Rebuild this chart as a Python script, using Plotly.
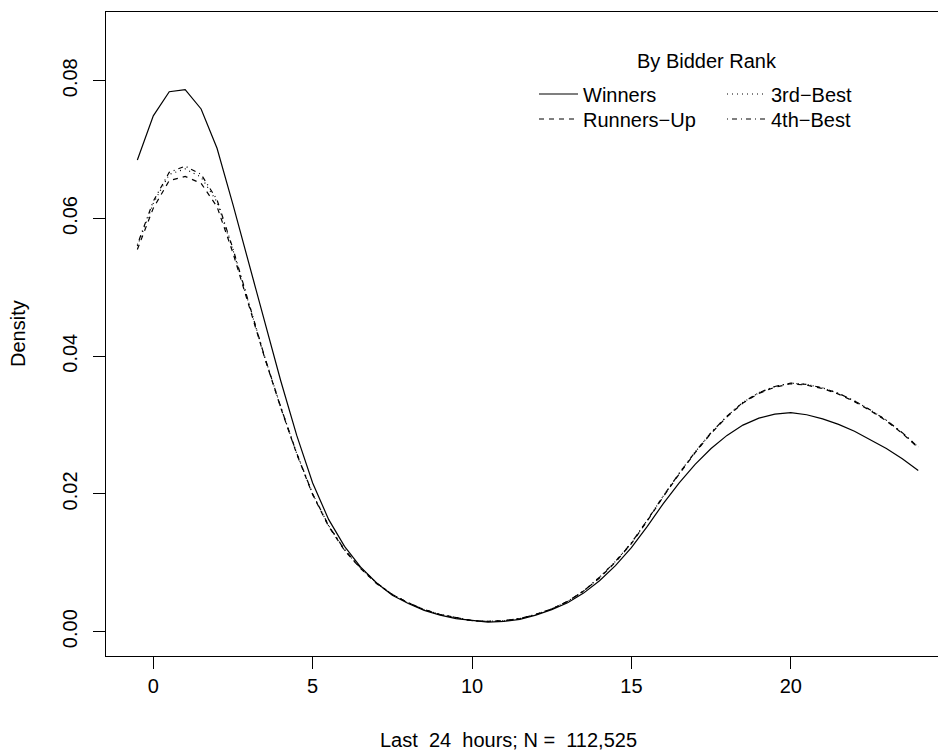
import plotly.graph_objects as go

# hours before auction end (grid of density estimate)
hours = [-0.5, 0, 0.5, 1, 1.5, 2, 2.5, 3, 3.5, 4, 4.5, 5, 5.5, 6, 6.5, 7, 7.5, 8, 8.5, 9,
         9.5, 10, 10.5, 11, 11.5, 12, 12.5, 13, 13.5, 14, 14.5, 15, 15.5, 16, 16.5, 17,
         17.5, 18, 18.5, 19, 19.5, 20, 20.5, 21, 21.5, 22, 22.5, 23, 23.5, 24]

winners = [0.0685, 0.0749, 0.0784, 0.0787, 0.0759, 0.0702, 0.0620, 0.0535, 0.0448, 0.0364,
           0.0285, 0.0216, 0.0163, 0.0124, 0.0094, 0.0071, 0.0053, 0.0041, 0.0031, 0.0024,
           0.0019, 0.0016, 0.0014, 0.0015, 0.0018, 0.0024, 0.0032, 0.0042, 0.0056, 0.0074,
           0.0096, 0.0122, 0.0153, 0.0186, 0.0216, 0.0243, 0.0266, 0.0285, 0.0300, 0.0310,
           0.0316, 0.0318, 0.0315, 0.0309, 0.0301, 0.0291, 0.0279, 0.0266, 0.0251, 0.0234]

runners_up = [0.0555, 0.0615, 0.0655, 0.0661, 0.0651, 0.0617, 0.0550, 0.0473, 0.0397, 0.0325,
              0.0258, 0.0199, 0.0153, 0.0118, 0.0092, 0.0070, 0.0054, 0.0042, 0.0032, 0.0025,
              0.0020, 0.0016, 0.0015, 0.0016, 0.0019, 0.0025, 0.0033, 0.0044, 0.0059, 0.0078,
              0.0101, 0.0128, 0.0161, 0.0196, 0.0229, 0.0260, 0.0288, 0.0312, 0.0332, 0.0346,
              0.0355, 0.0360, 0.0358, 0.0353, 0.0345, 0.0334, 0.0321, 0.0306, 0.0288, 0.0267]

third_best = [0.0560, 0.0622, 0.0664, 0.0672, 0.0660, 0.0624, 0.0554, 0.0476, 0.0398, 0.0326,
              0.0259, 0.0200, 0.0154, 0.0119, 0.0092, 0.0071, 0.0054, 0.0042, 0.0032, 0.0025,
              0.0020, 0.0016, 0.0015, 0.0016, 0.0019, 0.0025, 0.0033, 0.0044, 0.0059, 0.0079,
              0.0102, 0.0129, 0.0162, 0.0197, 0.0230, 0.0261, 0.0289, 0.0313, 0.0333, 0.0347,
              0.0356, 0.0361, 0.0359, 0.0354, 0.0346, 0.0335, 0.0322, 0.0307, 0.0289, 0.0268]

fourth_best = [0.0562, 0.0625, 0.0667, 0.0676, 0.0664, 0.0627, 0.0556, 0.0477, 0.0398, 0.0326,
               0.0259, 0.0200, 0.0154, 0.0119, 0.0093, 0.0071, 0.0054, 0.0042, 0.0032, 0.0025,
               0.0020, 0.0016, 0.0015, 0.0016, 0.0019, 0.0025, 0.0033, 0.0044, 0.0059, 0.0079,
               0.0102, 0.0129, 0.0162, 0.0197, 0.0230, 0.0261, 0.0289, 0.0313, 0.0333, 0.0347,
               0.0356, 0.0361, 0.0359, 0.0354, 0.0346, 0.0335, 0.0322, 0.0307, 0.0289, 0.0268]

series_names = ["Winners", "Runners\u2212Up", "3rd\u2212Best", "4th\u2212Best"]
x_ticks = [0, 5, 10, 15, 20]
y_ticks = [0.00, 0.02, 0.04, 0.06, 0.08]
y_tick_labels = ["0.00", "0.02", "0.04", "0.06", "0.08"]

FONT = "Liberation Sans, Arial, Helvetica, sans-serif"
FS = 20

W, H = 938, 754
L, R, T, B = 106, 0, 12, 98
pw, ph = W - L - R, H - T - B

def px2x(px):
    return (px - L) / pw

def py2y(py):
    return 1 - (py - T) / ph

fig = go.Figure()
styles = [
    (winners, "solid", "legend"),
    (runners_up, "5px,5px", "legend2"),
    (third_best, "1px,4px", "legend3"),
    (fourth_best, "1px,4px,5px,4px", "legend4"),
]
for name, (vals, dash, leg) in zip(series_names, styles):
    fig.add_trace(go.Scatter(
        x=hours, y=vals, mode="lines", name=name,
        line=dict(color="black", width=1.2, dash=dash),
        legend=leg, hoverinfo="skip",
    ))

# legend entry positions (origin x, centre y) in pixels
leg_pos = {"legend": (534, 94), "legend2": (534, 119),
           "legend3": (722, 94), "legend4": (722, 119)}
leg_layout = {}
for key, (lx, ly) in leg_pos.items():
    leg_layout[key] = dict(x=px2x(lx), y=py2y(ly), xanchor="left", yanchor="middle",
                           bgcolor="rgba(0,0,0,0)", font=dict(size=FS),
                           itemwidth=39, borderwidth=0)

fig.update_layout(
    width=W, height=H,
    margin=dict(l=L, r=R, t=T, b=B, pad=0),
    paper_bgcolor="white", plot_bgcolor="white",
    font=dict(family=FONT, size=FS, color="black"),
    showlegend=True,
    **leg_layout,
    xaxis=dict(
        range=[-1.484, 24.62], tickmode="array", tickvals=x_ticks,
        ticktext=[str(v) for v in x_ticks],
        showline=True, linecolor="black", linewidth=1, mirror=True,
        ticks="outside", ticklen=12, tickwidth=1, tickcolor="black",
        showgrid=False, zeroline=False, tickfont=dict(size=FS),
    ),
    yaxis=dict(
        range=[-0.00353, 0.08998], tickmode="array", tickvals=y_ticks,
        ticktext=y_tick_labels, tickangle=-90, ticklabelstandoff=8,
        showline=True, linecolor="black", linewidth=1,
        ticks="outside", ticklen=12, tickwidth=1, tickcolor="black",
        showgrid=False, zeroline=False, tickfont=dict(size=FS),
    ),
    annotations=[
        dict(text="Last  24  hours; N =  112,525", xref="paper", yref="paper",
             x=px2x(508), y=py2y(740), xanchor="center", yanchor="middle",
             showarrow=False, font=dict(size=FS)),
        dict(text="Density", xref="paper", yref="paper", textangle=-90,
             x=px2x(18), y=py2y(334), xanchor="center", yanchor="middle",
             showarrow=False, font=dict(size=FS)),
        dict(text="By Bidder Rank", xref="paper", yref="paper",
             x=px2x(707), y=py2y(61), xanchor="center", yanchor="middle",
             showarrow=False, font=dict(size=FS)),
    ],
)

fig.write_html("out.html")
